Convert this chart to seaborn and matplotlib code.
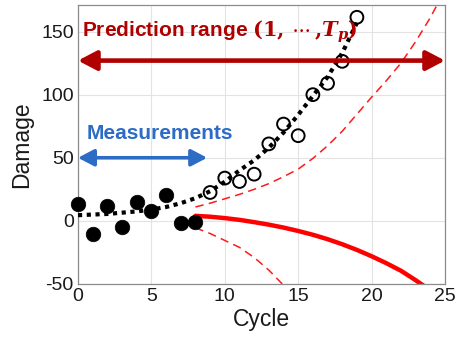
import matplotlib
matplotlib.use("Agg")
import matplotlib.pyplot as plt
import seaborn as sns
import pandas as pd

# ---- data ----
meas_cycle = [0, 1, 2, 3, 4, 5, 6, 7, 8]
meas_damage = [13.2, -10, 11.8, -4.7, 15, 7.9, 20.5, -1.8, -0.5]

true_cycle = [9, 10, 11, 12, 13, 14, 15, 16, 17, 18, 19]
true_damage = [22.5, 33.9, 31.2, 37, 61, 76.7, 67.5, 100, 109, 126.4, 161.3]

fit_cycle = list(range(0, 20))
fit_damage = [4.5, 5, 5.5, 6.5, 7.5, 9, 11, 14, 18, 23.5, 31, 40, 48, 58, 70,
              84, 99, 114, 133, 157]

pred_cycle = list(range(8, 25))
pred_damage = [4, 3.3, 2.2, 0.8, -1, -3, -5.3, -8, -11, -14.5, -18.5, -23,
               -28, -33.5, -39.5, -47, -55]

upper_cycle = list(range(8, 26))
upper_damage = [11, 14, 17.5, 21, 25, 29.5, 35, 41, 49.5, 59.5, 71, 84.5, 98,
                111, 125, 142, 161, 183]

lower_cycle = list(range(8, 16))
lower_damage = [-5.5, -10, -15.5, -21, -29, -39, -51, -65]

x_ticks = [0, 5, 10, 15, 20, 25]
y_ticks = [-50, 0, 50, 100, 150]

# ---- style ----
sns.set_style("whitegrid")
plt.rcParams['font.family'] = ['Liberation Sans', 'DejaVu Sans']
plt.rcParams['mathtext.fontset'] = 'dejavuserif'

fig = plt.figure(figsize=(4.55, 3.5), dpi=100)
ax = fig.add_axes([0.1714, 0.1886, 0.8066, 0.797])

DARKRED = '#B00000'
BLUE = '#2C6CC4'

# fitted dotted curve
sns.lineplot(x=fit_cycle, y=fit_damage, ax=ax, color='black', lw=3,
             linestyle=(0, (1, 1.1)), sort=False, estimator=None, zorder=3)
# prediction bounds
sns.lineplot(x=upper_cycle, y=upper_damage, ax=ax, color='#FF1A1A', lw=1.1,
             linestyle=(0, (5.5, 3.5)), sort=False, estimator=None, zorder=2)
sns.lineplot(x=lower_cycle, y=lower_damage, ax=ax, color='#FF1A1A', lw=1.1,
             linestyle=(0, (5.5, 3.5)), sort=False, estimator=None, zorder=2)
# prediction median
sns.lineplot(x=pred_cycle, y=pred_damage, ax=ax, color='#FF0000', lw=3.2,
             sort=False, estimator=None, zorder=2)

# measurements
sns.scatterplot(x=meas_cycle, y=meas_damage, ax=ax, color='black', s=110,
                edgecolor='black', linewidth=0.5, zorder=5, clip_on=False)
# true future values (open circles)
sns.scatterplot(x=true_cycle, y=true_damage, ax=ax, marker='o', s=85,
                facecolor='none', edgecolor='black', linewidth=1.4, zorder=4)

# arrows
ax.annotate('', xy=(0, 127), xytext=(25, 127),
            arrowprops=dict(arrowstyle='<|-|>,head_length=0.8,head_width=0.42',
                            mutation_scale=14, lw=3.3, color=DARKRED,
                            shrinkA=0, shrinkB=0), annotation_clip=False, zorder=6)
ax.annotate('', xy=(0, 50), xytext=(8.8, 50),
            arrowprops=dict(arrowstyle='<|-|>,head_length=0.8,head_width=0.42',
                            mutation_scale=12, lw=2.6, color=BLUE,
                            shrinkA=0, shrinkB=0), zorder=6)

ax.text(0.25, 146,
        "Prediction range " + r"$\mathbf{(1,}\,\cdots\,\mathbf{,}\mathbfit{T}_{\mathbfit{p}}\mathbf{)}$",
        color=DARKRED, fontsize=15, fontweight='bold', va='baseline', ha='left',
        zorder=7)
ax.text(0.6, 65, "Measurements", color=BLUE, fontsize=15, fontweight='bold',
        va='baseline', ha='left', zorder=7)

ax.set_xlim(0, 25)
ax.set_ylim(-50, 171)
ax.set_xticks(x_ticks)
ax.set_yticks(y_ticks)
ax.set_xticklabels([str(v) for v in x_ticks])
ax.set_yticklabels([str(v) for v in y_ticks])
ax.tick_params(axis='both', labelsize=14, length=0, pad=3, labelcolor='#1a1a1a')
ax.set_xlabel("Cycle", fontsize=16.5, color='#1a1a1a', labelpad=2)
ax.set_ylabel("Damage", fontsize=16.5, color='#1a1a1a', labelpad=6)

ax.grid(True, color='#e3e3e3', lw=0.8)
for sp in ax.spines.values():
    sp.set_visible(True)
    sp.set_color('#8c8c8c')
    sp.set_linewidth(0.9)

fig.savefig("out.png", dpi=100)
